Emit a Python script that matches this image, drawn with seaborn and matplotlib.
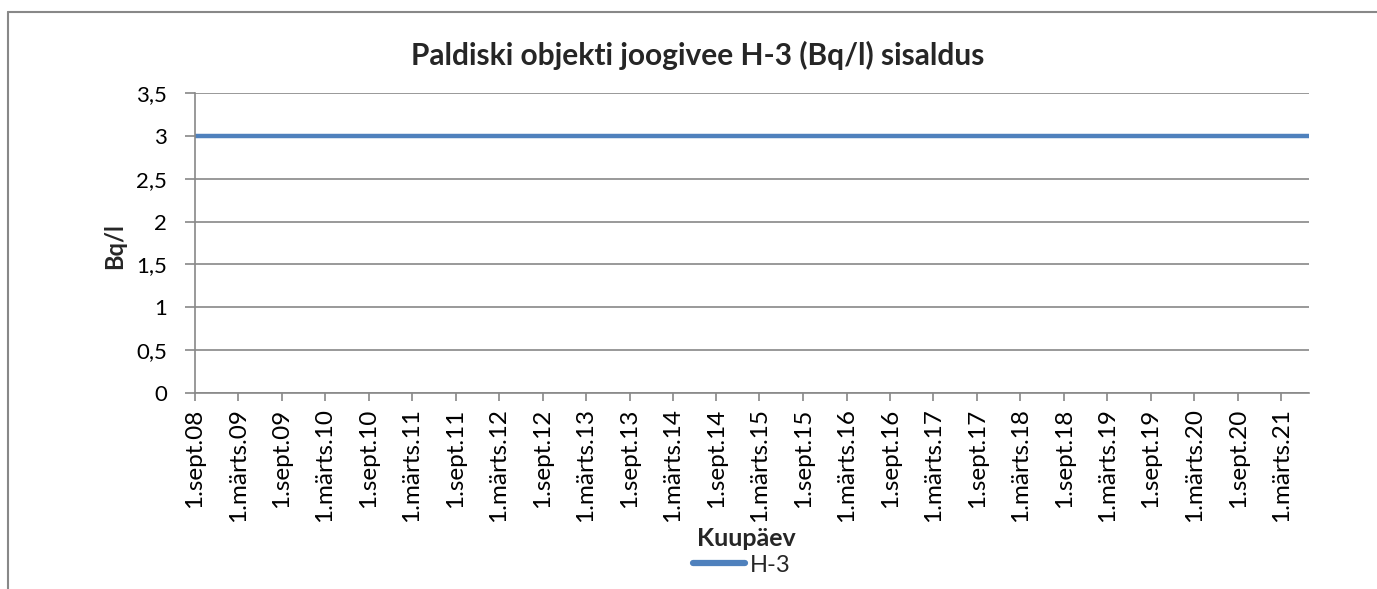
import pandas as pd
import matplotlib.pyplot as plt
from matplotlib.lines import Line2D
import seaborn as sns

# andmed
kuupaevad = ['2008-09-01', '2010-09-01', '2012-09-01', '2014-09-01',
             '2016-09-01', '2018-09-01', '2020-09-01', '2021-06-26']
h3 = [3, 3, 3, 3, 3, 3, 3, 3]

tick_kuupaevad = pd.date_range('2008-09-01', '2021-03-01', freq='6MS')
tick_sildid = [f"1.{'sept' if d.month == 9 else 'märts'}.{d.year % 100:02d}" for d in tick_kuupaevad]
y_ticks = [0, 0.5, 1, 1.5, 2, 2.5, 3, 3.5]
y_sildid = ['0', '0,5', '1', '1,5', '2', '2,5', '3', '3,5']

df = pd.DataFrame({'Kuupäev': pd.to_datetime(kuupaevad), 'H-3': h3})

sns.set_style('white')
plt.rcParams['font.family'] = ['Lato', 'DejaVu Sans']

fig = plt.figure(figsize=(13.77, 5.89), dpi=100)
ax = fig.add_axes([195/1377, 1 - 393/589, (1309-195)/1377, (393-93)/589])

sns.lineplot(data=df, x='Kuupäev', y='H-3', ax=ax, color='#4F81BD', lw=3.2,
             solid_capstyle='round', legend=False)

ax.set_xlim(pd.Timestamp('2008-09-01'), pd.Timestamp('2021-06-26'))
ax.set_ylim(0, 3.5)
ax.set_yticks(y_ticks)
ax.set_yticklabels(y_sildid, fontsize=16)
ax.set_xticks(tick_kuupaevad)
ax.set_xticklabels(tick_sildid, rotation=90, fontsize=17.5)

ax.grid(axis='y', color='#888888', lw=1.2)
ax.set_axisbelow(True)
for s in ['top', 'right']:
    ax.spines[s].set_visible(False)
for s in ['left', 'bottom']:
    ax.spines[s].set_color('#888888')
    ax.spines[s].set_linewidth(1.2)
ax.tick_params(axis='both', direction='out', width=1.2, color='#888888',
               left=True, bottom=True, labelcolor='black')
ax.tick_params(axis='x', length=6, pad=5)
ax.tick_params(axis='y', length=7, pad=13)
ax.set_xlabel('')
ax.set_ylabel('')

fig.text(698/1377, 1 - 55/589, 'Paldiski objekti joogivee H-3 (Bq/l) sisaldus',
         fontsize=21.5, fontweight='bold', ha='center', va='center')
fig.text(115/1377, 1 - 246/589, 'Bq/l', fontsize=17, fontweight='bold',
         rotation=90, ha='center', va='center')
fig.text(746/1377, 1 - 538/589, 'Kuupäev', fontsize=18, fontweight='bold',
         ha='center', va='center')

handle = Line2D([], [], color='#4F81BD', lw=4.5, solid_capstyle='round')
fig.legend([handle], ['H-3'], loc='center', bbox_to_anchor=(742/1377, 1 - 565/589),
           frameon=False, fontsize=17, handlelength=2.2, handletextpad=0.2)

# raam ümber diagrammi
fig.add_artist(Line2D([8/1377, 1], [1 - 12/589, 1 - 12/589], color='#888888', lw=1.5))
fig.add_artist(Line2D([8/1377, 8/1377], [0, 1 - 12/589], color='#888888', lw=1.5))

fig.savefig('out.png', dpi=100)
